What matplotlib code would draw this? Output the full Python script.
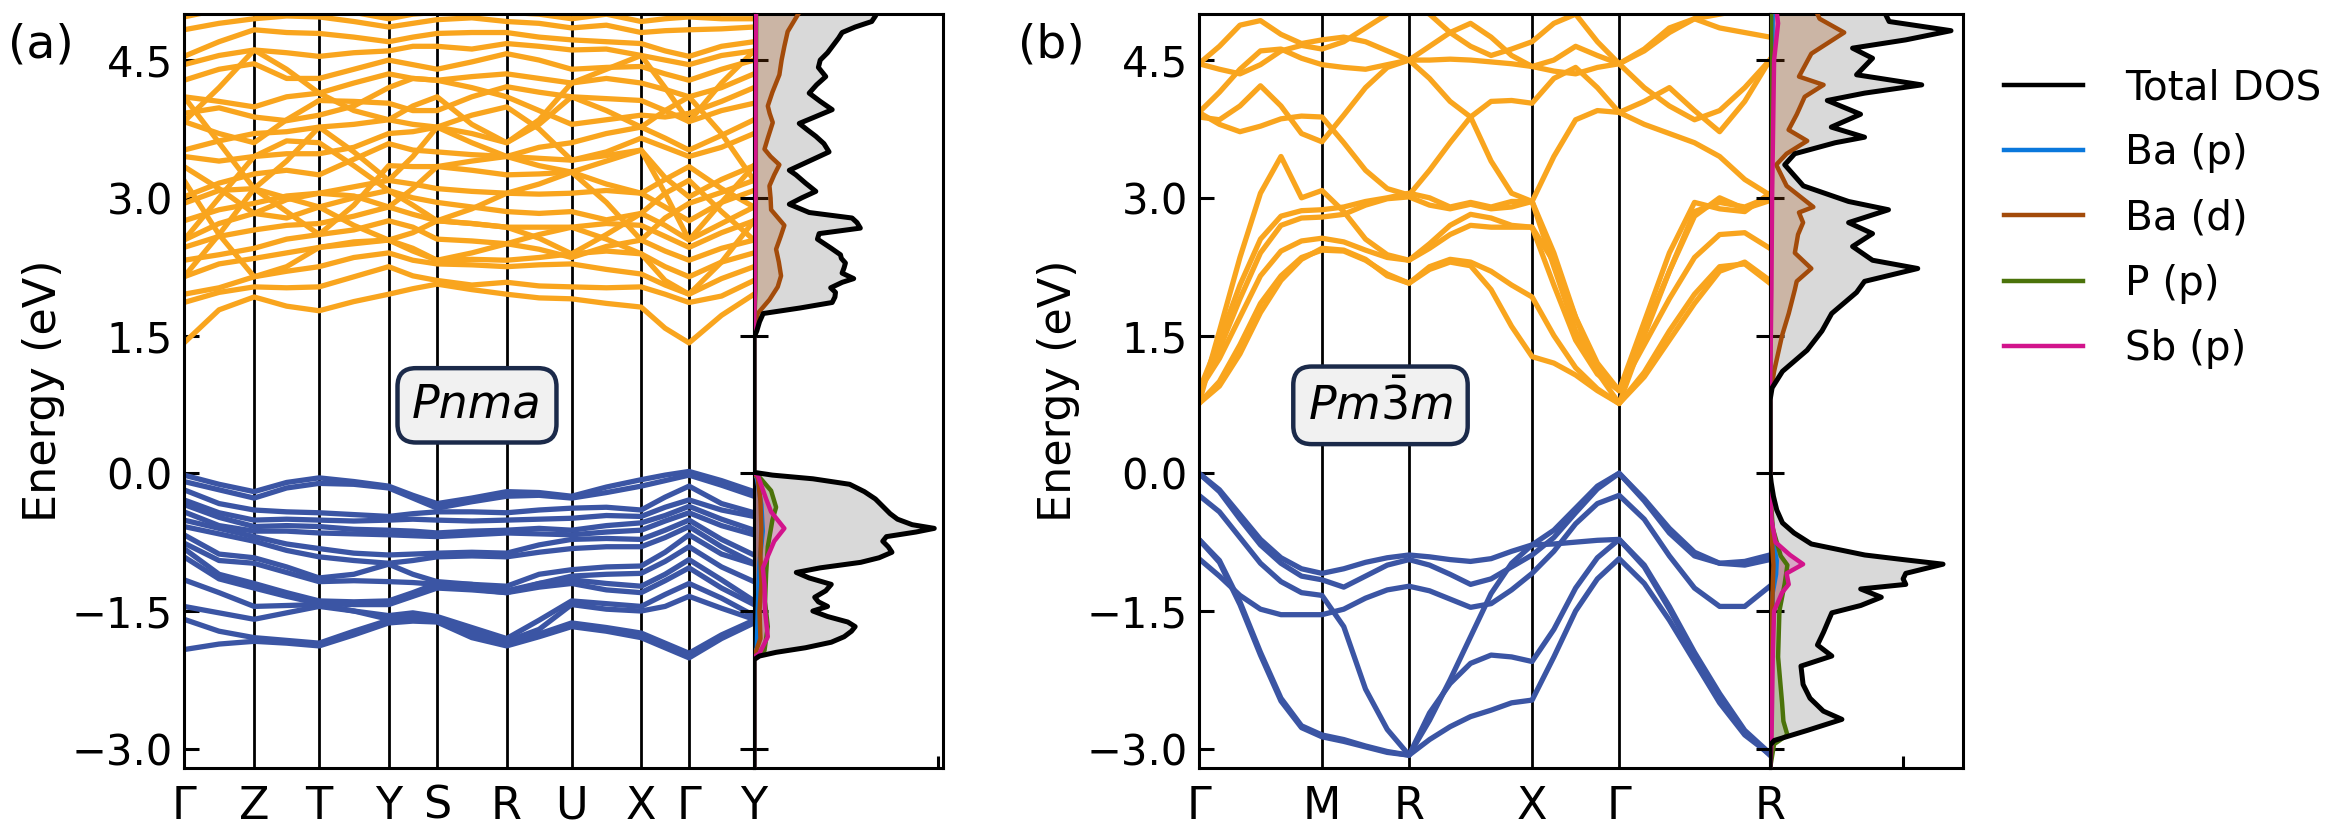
import numpy as np
import matplotlib
matplotlib.use('Agg')
import matplotlib.pyplot as plt
from matplotlib.lines import Line2D

plt.rcParams['font.family'] = ['DejaVu Sans']

# --------------------------------------------------------
# k-path
labels_a = ['Γ', 'Z', 'T', 'Y', 'S', 'R', 'U', 'X', 'Γ', 'Y']
hs_a = [0.0, 0.123, 0.237, 0.359, 0.444, 0.566, 0.680, 0.802, 0.886, 1.0]
nsub_a = [2, 2, 2, 2, 2, 2, 2, 2, 2]
labels_b = ['Γ', 'M', 'R', 'X', 'Γ', 'R']
hs_b = [0.0, 0.7071, 1.2071, 1.9142, 2.4142, 3.2802]
nsub_b = [6, 4, 6, 4, 6]

ytick_vals = [-3.0, -1.5, 0.0, 1.5, 3.0, 4.5]
ytick_labels = ['−3.0', '−1.5', '0.0', '1.5', '3.0', '4.5']

# (a) Pnma valence bands, energies (eV) along the path (HS point / midpoint)
va01 = [-0.02, -0.12, -0.20, -0.10, -0.05, -0.09, -0.14, -0.24, -0.33, -0.27, -0.20, -0.21, -0.25, -0.15, -0.07, -0.02, 0.02, -0.08, -0.20]
va02 = [-0.09, -0.18, -0.27, -0.16, -0.11, -0.12, -0.16, -0.27, -0.38, -0.31, -0.25, -0.24, -0.27, -0.21, -0.14, -0.08, -0.02, -0.13, -0.25]
va03 = [-0.18, -0.33, -0.40, -0.42, -0.43, -0.45, -0.47, -0.44, -0.42, -0.42, -0.43, -0.40, -0.38, -0.37, -0.40, -0.26, -0.14, -0.33, -0.43]
va04 = [-0.29, -0.43, -0.51, -0.50, -0.51, -0.52, -0.51, -0.50, -0.51, -0.52, -0.51, -0.50, -0.49, -0.46, -0.47, -0.37, -0.29, -0.40, -0.47]
va05 = [-0.34, -0.48, -0.58, -0.57, -0.58, -0.61, -0.62, -0.63, -0.65, -0.63, -0.62, -0.60, -0.62, -0.57, -0.54, -0.46, -0.36, -0.50, -0.62]
va06 = [-0.42, -0.57, -0.63, -0.63, -0.65, -0.66, -0.67, -0.68, -0.69, -0.67, -0.65, -0.66, -0.67, -0.64, -0.62, -0.52, -0.43, -0.57, -0.67]
va07 = [-0.51, -0.60, -0.69, -0.77, -0.82, -0.87, -0.89, -0.88, -0.87, -0.86, -0.87, -0.78, -0.72, -0.71, -0.72, -0.62, -0.51, -0.72, -0.89]
va08 = [-0.58, -0.66, -0.74, -0.84, -0.91, -0.95, -0.98, -0.95, -0.91, -0.90, -0.91, -0.86, -0.82, -0.80, -0.80, -0.70, -0.58, -0.80, -0.98]
va09 = [-0.67, -0.88, -0.92, -1.02, -1.14, -1.10, -0.99, -1.10, -1.18, -1.21, -1.23, -1.10, -1.05, -1.02, -1.01, -0.86, -0.67, -0.88, -0.99]
va10 = [-0.76, -0.95, -0.98, -1.08, -1.18, -1.17, -1.18, -1.19, -1.21, -1.26, -1.30, -1.20, -1.12, -1.10, -1.09, -0.96, -0.80, -1.02, -1.18]
va11 = [-0.82, -1.10, -1.20, -1.30, -1.39, -1.40, -1.39, -1.30, -1.20, -1.21, -1.28, -1.20, -1.16, -1.20, -1.23, -1.10, -0.94, -1.16, -1.39]
va12 = [-0.91, -1.15, -1.25, -1.34, -1.42, -1.43, -1.43, -1.34, -1.25, -1.27, -1.30, -1.24, -1.20, -1.27, -1.30, -1.17, -1.03, -1.25, -1.43]
va13 = [-1.16, -1.30, -1.45, -1.44, -1.43, -1.50, -1.55, -1.52, -1.56, -1.68, -1.80, -1.60, -1.39, -1.42, -1.45, -1.32, -1.20, -1.36, -1.55]
va14 = [-1.45, -1.52, -1.59, -1.52, -1.45, -1.50, -1.59, -1.57, -1.58, -1.72, -1.83, -1.70, -1.43, -1.48, -1.50, -1.45, -1.34, -1.47, -1.59]
va15 = [-1.59, -1.72, -1.79, -1.82, -1.85, -1.72, -1.60, -1.58, -1.60, -1.76, -1.86, -1.75, -1.63, -1.68, -1.74, -1.85, -1.96, -1.76, -1.60]
va16 = [-1.92, -1.86, -1.83, -1.85, -1.88, -1.76, -1.63, -1.61, -1.62, -1.79, -1.88, -1.78, -1.67, -1.72, -1.79, -1.90, -2.01, -1.80, -1.63]

# (a) Pnma conduction bands
ca01 = [1.42, 1.78, 1.92, 1.82, 1.77, 1.87, 1.95, 2.01, 2.06, 2.00, 1.95, 1.91, 1.90, 1.85, 1.81, 1.58, 1.42, 1.72, 1.95]
ca02 = [1.86, 1.97, 2.03, 2.02, 2.03, 2.14, 2.25, 2.15, 2.10, 2.05, 2.08, 2.04, 2.03, 2.02, 2.03, 1.95, 1.86, 1.93, 2.10]
ca03 = [1.95, 2.02, 2.14, 2.20, 2.25, 2.35, 2.40, 2.32, 2.28, 2.27, 2.25, 2.27, 2.28, 2.22, 2.17, 2.05, 1.95, 2.12, 2.25]
ca04 = [2.14, 2.28, 2.34, 2.40, 2.46, 2.50, 2.54, 2.42, 2.32, 2.33, 2.32, 2.35, 2.39, 2.42, 2.39, 2.25, 2.14, 2.30, 2.40]
ca05 = [2.32, 2.38, 2.45, 2.55, 2.60, 2.65, 2.75, 2.68, 2.55, 2.53, 2.50, 2.44, 2.35, 2.47, 2.54, 2.42, 2.32, 2.45, 2.54]
ca06 = [2.46, 2.58, 2.65, 2.70, 2.72, 2.80, 2.90, 2.82, 2.75, 2.72, 2.68, 2.68, 2.68, 2.72, 2.70, 2.58, 2.46, 2.62, 2.75]
ca07 = [2.54, 2.72, 2.83, 2.78, 2.90, 3.00, 3.08, 3.00, 2.95, 2.90, 2.85, 2.83, 2.85, 2.76, 2.83, 2.70, 2.54, 2.72, 2.90]
ca08 = [2.75, 2.87, 2.94, 3.02, 3.05, 3.12, 3.19, 3.15, 3.10, 3.07, 3.05, 3.04, 3.05, 3.08, 3.05, 2.90, 2.75, 2.95, 3.08]
ca09 = [2.94, 3.08, 3.10, 2.85, 2.60, 2.92, 3.35, 3.34, 3.34, 3.30, 3.25, 3.26, 3.28, 2.95, 2.54, 2.78, 2.94, 3.06, 3.19]
ca10 = [3.01, 3.16, 3.26, 3.30, 3.25, 3.42, 3.59, 3.52, 3.50, 3.47, 3.45, 3.43, 3.41, 3.46, 3.52, 3.22, 3.01, 3.20, 3.35]
ca11 = [3.19, 2.60, 2.14, 2.25, 2.46, 2.52, 2.54, 2.62, 2.75, 2.72, 2.68, 2.56, 2.39, 2.60, 2.83, 3.05, 3.19, 2.85, 2.54]
ca12 = [3.34, 3.10, 2.83, 2.98, 3.05, 3.02, 2.90, 3.10, 3.34, 3.40, 3.45, 3.35, 3.28, 3.15, 3.05, 3.20, 3.34, 3.10, 2.90]
ca13 = [3.45, 3.40, 3.45, 3.48, 3.48, 3.55, 3.70, 3.72, 3.77, 3.90, 3.99, 3.75, 3.41, 3.50, 3.65, 3.55, 3.45, 3.55, 3.70]
ca14 = [3.52, 3.62, 3.70, 3.72, 3.77, 3.80, 3.85, 3.80, 3.77, 3.60, 3.45, 3.55, 3.60, 3.70, 3.77, 3.65, 3.52, 3.68, 3.85]
ca15 = [3.83, 3.70, 3.60, 3.85, 4.06, 4.05, 4.03, 3.95, 3.95, 4.10, 4.21, 4.15, 4.10, 4.08, 4.06, 3.95, 3.83, 3.95, 4.03]
ca16 = [3.92, 3.98, 3.88, 3.84, 3.90, 4.00, 4.20, 4.30, 4.28, 4.20, 4.10, 3.95, 3.80, 3.85, 3.90, 3.88, 3.92, 4.05, 4.20]
ca17 = [4.10, 4.05, 3.99, 4.10, 4.14, 4.25, 4.35, 4.30, 4.28, 4.32, 4.35, 4.30, 4.25, 4.30, 4.25, 4.18, 4.10, 4.20, 4.35]
ca18 = [4.28, 4.40, 4.46, 4.30, 4.30, 4.40, 4.50, 4.45, 4.40, 4.48, 4.57, 4.50, 4.40, 4.42, 4.43, 4.35, 4.28, 4.40, 4.50]
ca19 = [4.45, 4.55, 4.61, 4.58, 4.54, 4.58, 4.60, 4.65, 4.65, 4.62, 4.68, 4.65, 4.61, 4.62, 4.55, 4.50, 4.45, 4.55, 4.60]
ca20 = [4.54, 4.70, 4.83, 4.80, 4.79, 4.75, 4.70, 4.75, 4.79, 4.80, 4.80, 4.75, 4.72, 4.70, 4.68, 4.60, 4.54, 4.65, 4.70]
ca21 = [4.83, 4.90, 4.95, 4.98, 4.97, 4.92, 4.86, 4.90, 4.94, 4.96, 4.92, 4.90, 4.85, 4.88, 4.80, 4.82, 4.83, 4.84, 4.86]
ca22 = [4.97, 5.05, 5.10, 5.08, 5.05, 5.02, 4.95, 5.00, 5.02, 5.05, 5.02, 5.00, 4.95, 5.00, 4.92, 4.95, 4.97, 4.95, 4.95]
ca23 = [4.10, 3.60, 3.10, 3.40, 3.77, 3.50, 3.19, 3.45, 3.77, 3.70, 3.60, 3.80, 4.10, 3.95, 3.77, 3.95, 4.10, 3.70, 3.19]
ca24 = [2.54, 3.00, 3.45, 3.62, 3.60, 3.35, 3.08, 2.92, 2.75, 2.88, 3.05, 3.15, 3.28, 3.40, 3.52, 3.05, 2.54, 2.95, 3.35]
ca25 = [2.14, 2.60, 3.10, 3.00, 2.90, 2.70, 2.54, 2.45, 2.32, 2.40, 2.50, 2.60, 2.68, 2.55, 2.39, 2.10, 1.95, 2.30, 2.75]
ca26 = [3.83, 4.20, 4.61, 4.40, 4.14, 3.95, 3.85, 4.00, 4.10, 3.80, 3.60, 3.85, 4.25, 4.40, 4.55, 4.20, 3.83, 4.25, 4.60]

# (b) Pm-3m valence bands
vb01 = [0.00, -0.18, -0.45, -0.72, -0.92, -1.04, -1.09, -1.04, -0.97, -0.92, -0.89, -0.91, -0.94, -0.96, -0.93, -0.85, -0.78, -0.62, -0.38, -0.14, 0.00, -0.30, -0.65, -0.90, -0.98, -0.96, -0.89]
vb02 = [0.00, -0.20, -0.50, -0.78, -0.98, -1.12, -1.16, -1.24, -1.12, -1.00, -0.94, -1.00, -1.10, -1.21, -1.15, -1.02, -0.89, -0.70, -0.43, -0.17, 0.00, -0.28, -0.60, -0.86, -0.98, -1.00, -0.94]
vb03 = [-0.24, -0.42, -0.70, -0.98, -1.18, -1.30, -1.33, -1.67, -2.35, -2.79, -3.07, -2.69, -2.25, -1.78, -1.31, -0.98, -0.78, -0.77, -0.75, -0.73, -0.72, -1.02, -1.48, -1.98, -2.43, -2.82, -3.07]
vb04 = [-0.93, -1.12, -1.33, -1.48, -1.54, -1.54, -1.54, -1.48, -1.36, -1.27, -1.23, -1.28, -1.37, -1.46, -1.42, -1.27, -1.09, -0.85, -0.55, -0.33, -0.24, -0.50, -0.90, -1.25, -1.45, -1.45, -1.23]
vb05 = [-0.72, -0.95, -1.40, -1.95, -2.45, -2.75, -2.85, -2.90, -2.97, -3.03, -3.07, -2.61, -2.29, -2.07, -1.98, -2.00, -2.05, -1.70, -1.25, -0.92, -0.72, -1.00, -1.45, -1.95, -2.40, -2.80, -3.05]
vb06 = [-0.72, -0.97, -1.43, -1.98, -2.48, -2.77, -2.87, -2.92, -2.98, -3.04, -3.07, -2.90, -2.76, -2.65, -2.58, -2.50, -2.47, -2.00, -1.50, -1.15, -0.93, -1.20, -1.60, -2.05, -2.50, -2.85, -3.06]

# (b) Pm-3m conduction bands
cb01 = [0.76, 1.00, 1.40, 1.85, 2.15, 2.35, 2.43, 2.42, 2.32, 2.17, 2.07, 2.22, 2.30, 2.26, 2.00, 1.60, 1.27, 1.20, 1.07, 0.90, 0.76, 1.10, 1.55, 1.95, 2.25, 2.28, 2.07]
cb02 = [0.76, 0.95, 1.30, 1.75, 2.10, 2.33, 2.45, 2.43, 2.33, 2.15, 2.07, 2.25, 2.33, 2.30, 2.20, 2.05, 1.92, 1.50, 1.15, 0.92, 0.76, 1.05, 1.45, 1.85, 2.20, 2.30, 2.10]
cb03 = [0.90, 1.25, 1.70, 2.15, 2.42, 2.53, 2.56, 2.52, 2.43, 2.35, 2.32, 2.50, 2.70, 2.82, 2.78, 2.70, 2.68, 2.05, 1.45, 1.08, 0.90, 1.40, 1.90, 2.35, 2.60, 2.62, 2.45]
cb04 = [0.90, 1.35, 1.90, 2.40, 2.70, 2.78, 2.79, 2.82, 2.92, 2.99, 3.01, 2.92, 2.88, 2.93, 2.88, 2.90, 2.96, 2.25, 1.55, 1.12, 0.90, 1.55, 2.20, 2.80, 3.00, 2.88, 2.97]
cb05 = [0.76, 1.55, 2.35, 3.05, 3.45, 3.00, 3.08, 2.85, 2.55, 2.38, 2.32, 2.45, 2.60, 2.70, 2.68, 2.68, 2.68, 2.30, 1.70, 1.10, 0.76, 1.50, 2.20, 2.85, 2.95, 2.90, 3.01]
cb06 = [0.90, 1.45, 2.05, 2.55, 2.80, 2.86, 2.87, 2.90, 2.96, 3.00, 3.05, 3.00, 2.90, 2.95, 2.90, 2.96, 2.96, 2.40, 1.70, 1.20, 0.90, 1.65, 2.40, 2.95, 2.88, 2.85, 3.05]
cb07 = [3.93, 3.80, 3.72, 3.78, 3.86, 3.89, 3.88, 3.60, 3.30, 3.10, 3.03, 3.30, 3.60, 3.88, 4.05, 4.06, 4.03, 4.30, 4.42, 4.20, 3.93, 4.05, 4.20, 3.95, 3.72, 4.05, 4.50]
cb08 = [3.88, 3.85, 4.00, 4.22, 4.00, 3.70, 3.61, 3.90, 4.20, 4.42, 4.50, 4.50, 4.51, 4.50, 4.48, 4.46, 4.43, 4.38, 4.35, 4.42, 4.46, 4.62, 4.85, 4.95, 4.85, 4.80, 4.75]
cb09 = [4.46, 4.65, 4.88, 4.93, 4.78, 4.68, 4.72, 4.75, 4.70, 4.60, 4.50, 4.30, 4.05, 3.88, 3.40, 3.05, 2.96, 3.45, 3.85, 3.95, 3.93, 3.80, 3.70, 3.60, 3.45, 3.20, 3.03]
cb10 = [3.93, 4.15, 4.40, 4.60, 4.62, 4.52, 4.45, 4.42, 4.40, 4.45, 4.50, 4.65, 4.80, 4.90, 4.75, 4.55, 4.43, 4.50, 4.65, 4.55, 4.46, 4.20, 4.00, 3.85, 3.95, 4.20, 4.50]
cb11 = [4.46, 4.40, 4.35, 4.45, 4.60, 4.66, 4.62, 4.70, 4.85, 5.00, 5.10, 5.00, 4.80, 4.65, 4.55, 4.62, 4.70, 4.90, 5.00, 4.70, 4.46, 4.60, 4.80, 4.95, 5.00, 5.05, 5.10]

# (a) DOS (states/eV)
e_tot_a = [-3.21, -2.03, -1.99, -1.95, -1.90, -1.84, -1.78, -1.72, -1.67, -1.62, -1.56, -1.50, -1.45, -1.40, -1.35, -1.28, -1.21, -1.14, -1.08, -1.03,
           -0.97, -0.92, -0.86, -0.80, -0.74, -0.69, -0.64, -0.60, -0.56, -0.50, -0.44, -0.36, -0.28, -0.20, -0.12, -0.06, -0.02, 0.01,
           1.48, 1.55, 1.65, 1.74, 1.80, 1.86, 1.92, 1.97, 2.02, 2.08, 2.12, 2.18, 2.24, 2.29, 2.34, 2.38, 2.45, 2.55, 2.61, 2.67,
           2.73, 2.78, 2.84, 2.93, 3.00, 3.07, 3.16, 3.25, 3.30, 3.40, 3.50, 3.59, 3.67, 3.74, 3.81, 3.88, 3.96, 4.05, 4.14, 4.23,
           4.32, 4.42, 4.50, 4.58, 4.66, 4.74, 4.80, 4.86, 4.92, 4.98, 5.02]
dos_tot_a = [0, 0, 0.3, 1.2, 2.8, 4.2, 4.9, 5.3, 5.5, 5.1, 4.0, 3.2, 4.0, 3.5, 3.3, 3.9, 4.2, 3.0, 2.3, 3.6,
             5.8, 6.8, 7.5, 7.3, 7.0, 7.2, 8.8, 9.8, 8.6, 7.8, 7.4, 7.0, 6.6, 6.0, 5.2, 3.2, 1.0, 0,
             0, 0.15, 0.3, 0.5, 2.5, 4.25, 4.4, 4.43, 4.17, 4.8, 5.42, 4.79, 4.9, 4.97, 4.75, 4.70, 4.2, 3.45, 3.54, 5.78,
             5.6, 5.33, 3.0, 1.92, 2.6, 3.36, 2.8, 2.28, 1.92, 3.0, 4.08, 3.8, 3.36, 2.9, 2.46, 3.3, 4.25, 3.6, 3.0, 3.4,
             3.9, 3.5, 3.6, 4.0, 4.3, 4.6, 4.79, 5.5, 6.4, 6.6, 6.7]
e_bap_a = [-3.21, -2.0, -1.9, -1.5, -1.2, -0.97, -0.63, -0.34, -0.05, 0.0, 1.5, 3.0, 5.02]
dos_bap_a = [0, 0, 0.15, 0.2, 0.25, 0.3, 0.48, 0.4, 0.15, 0, 0, 0.05, 0.08]
e_bad_a = [-3.21, -2.0, -1.8, -1.5, -1.2, -0.9, -0.6, -0.3, -0.05, 0.0, 1.50, 1.60, 1.74, 1.89, 2.03, 2.15, 2.30, 2.44, 2.58, 2.70,
           2.87, 3.00, 3.13, 3.25, 3.36, 3.45, 3.53, 3.65, 3.82, 3.92, 4.00, 4.15, 4.34, 4.50, 4.65, 4.81, 4.90, 5.02]
dos_bad_a = [0, 0, 0.35, 0.3, 0.4, 0.35, 0.4, 0.35, 0.2, 0, 0, 0.05, 0.2, 0.84, 1.29, 1.47, 1.35, 1.20, 1.45, 1.65,
             0.93, 0.9, 0.84, 1.1, 1.38, 0.9, 0.57, 0.75, 1.02, 0.85, 0.75, 1.0, 1.38, 1.5, 1.65, 1.83, 2.1, 2.46]
e_pp_a = [-3.21, -2.0, -1.93, -1.67, -1.40, -1.09, -0.80, -0.51, -0.37, -0.19, -0.02, 0.0, 1.5, 2.0, 3.0, 4.0, 5.02]
dos_pp_a = [0, 0, 0.57, 0.75, 0.6, 0.66, 0.75, 1.0, 1.2, 0.93, 0.2, 0, 0, 0.08, 0.1, 0.1, 0.12]
e_sbp_a = [-3.21, -2.0, -1.96, -1.78, -1.50, -1.21, -1.03, -0.74, -0.60, -0.42, -0.28, -0.02, 0.0, 1.5, 2.0, 3.0, 4.0, 5.02]
dos_sbp_a = [0, 0, 0.3, 0.75, 0.6, 0.57, 0.48, 1.1, 1.65, 0.93, 0.66, 0.2, 0, 0, 0.05, 0.08, 0.08, 0.1]

# (b) DOS (states/eV)
e_tot_b = [-3.21, -2.96, -2.91, -2.80, -2.68, -2.59, -2.45, -2.30, -2.10, -1.99, -1.87, -1.73, -1.60, -1.52, -1.44, -1.35, -1.26, -1.21, -1.15, -1.09,
           -0.99, -0.94, -0.89, -0.77, -0.65, -0.54, -0.40, -0.25, -0.10, 0.0,
           0.80, 0.93, 1.11, 1.34, 1.55, 1.74, 1.97, 2.09, 2.23, 2.32, 2.47, 2.61, 2.73, 2.87, 2.96, 3.13, 3.36, 3.48, 3.60, 3.66,
           3.77, 3.91, 4.06, 4.14, 4.23, 4.34, 4.52, 4.63, 4.72, 4.82, 4.92, 5.02]
dos_tot_b = [0, 0, 0.31, 2.8, 5.4, 4.0, 3.0, 2.48, 2.32, 4.64, 3.56, 4.02, 4.4, 4.64, 6.81, 8.36, 6.81, 10.2, 10.0, 10.2,
             13.0, 10.0, 7.12, 3.10, 1.8, 0.93, 0.5, 0.25, 0.08, 0,
             0, 0.15, 0.93, 2.78, 3.9, 4.63, 6.5, 7.1, 11.1, 7.7, 6.2, 7.7, 5.9, 8.9, 5.9, 2.5, 1.1, 1.85, 4.9, 7.1,
             4.6, 6.8, 4.3, 7.1, 11.4, 6.5, 7.7, 6.2, 10.2, 13.6, 8.95, 8.6]
e_bap_b = [-3.21, -2.9, -2.0, -1.3, -1.1, -0.95, -0.8, -0.4, 0.0, 0.85, 3.0, 4.5, 5.02]
dos_bap_b = [0, 0.05, 0.08, 0.2, 0.45, 0.5, 0.3, 0.05, 0, 0, 0.05, 0.15, 0.2]
e_bad_b = [-3.21, -3.0, -2.5, -2.0, -1.5, -1.0, -0.5, 0.0, 0.85, 0.93, 1.11, 1.50, 1.74, 2.00, 2.09, 2.23, 2.40, 2.60,
           2.73, 2.84, 2.90, 3.13, 3.36, 3.48, 3.62, 3.74, 3.91, 4.10, 4.23, 4.32, 4.57, 4.80, 4.95, 5.02]
dos_bad_b = [0, 0.05, 0.1, 0.12, 0.15, 0.25, 0.05, 0, 0, 0.1, 0.3, 0.9, 1.4, 1.86, 2.0, 3.1, 1.86, 2.1,
             2.48, 2.17, 3.25, 1.24, 0.46, 1.24, 2.79, 1.39, 2.01, 2.6, 4.02, 2.17, 3.1, 5.57, 3.72, 3.5]
e_pp_b = [-3.21, -2.95, -2.85, -2.70, -2.50, -2.0, -1.5, -1.2, -1.0, -0.9, -0.6, -0.2, 0.0, 0.85, 3.0, 5.02]
dos_pp_b = [0, 0.3, 1.3, 1.0, 0.9, 0.6, 0.7, 1.1, 1.3, 0.8, 0.2, 0.02, 0, 0, 0.05, 0.08]
e_sbp_b = [-3.21, -2.95, -2.5, -2.0, -1.5, -1.30, -1.21, -1.09, -0.99, -0.89, -0.75, -0.50, -0.2, 0.0, 0.85, 2.0, 3.0, 4.0, 4.5, 4.9, 5.02]
dos_sbp_b = [0, 0.1, 0.15, 0.2, 0.3, 0.9, 1.4, 1.24, 2.48, 1.5, 0.4, 0.1, 0.02, 0, 0, 0.1, 0.15, 0.25, 0.3, 0.6, 0.5]

dos_names = ['Total DOS', 'Ba (p)', 'Ba (d)', 'P (p)', 'Sb (p)']
dos_colors = ['black', '#0a78dc', '#a34b0a', '#4b730a', '#d2148c']

c_cond = '#f9a51e'
c_val = '#3b55a4'
ylim = (-3.21, 5.0)


def path_grid(hs, nsub):
    k = []
    for i in range(len(hs) - 1):
        k.extend(np.linspace(hs[i], hs[i + 1], nsub[i] + 1)[:-1])
    k.append(hs[-1])
    return np.array(k)


def draw_bands(ax, hs, labels, kgrid, vbands, cbands):
    for x in hs[1:-1]:
        ax.axvline(x, color='black', lw=1.0, zorder=1)
    for b in cbands:
        ax.plot(kgrid, b, color=c_cond, lw=1.9, zorder=2, solid_joinstyle='round')
    for b in vbands:
        ax.plot(kgrid, b, color=c_val, lw=1.9, zorder=2, solid_joinstyle='round')
    ax.set_xlim(hs[0], hs[-1])
    ax.set_ylim(*ylim)
    ax.set_xticks(hs)
    ax.set_xticklabels(labels, fontsize=16)
    ax.tick_params(axis='x', length=0, pad=6)
    ax.set_yticks(ytick_vals)
    ax.set_yticklabels(ytick_labels, fontsize=15)
    ax.tick_params(axis='y', direction='in', length=5.5, width=1.1, pad=4)
    ax.set_ylabel('Energy (eV)', fontsize=16)
    ax.yaxis.set_label_coords(-0.208, 0.5)
    for s in ax.spines.values():
        s.set_linewidth(1.1)


def draw_dos(ax, xmax, curves):
    e_t, d_t = curves[0]
    ax.fill_betweenx(e_t, 0, d_t, color='#d9d9d9', lw=0, zorder=1)
    for (e_p, d_p), col in zip(curves[1:], dos_colors[1:]):
        ax.fill_betweenx(e_p, 0, d_p, color=col, alpha=0.25, lw=0, zorder=2)
        ax.plot(d_p, e_p, color=col, lw=1.6, zorder=3)
    ax.plot(d_t, e_t, color='black', lw=1.8, zorder=4)
    ax.set_xlim(0, xmax)
    ax.set_ylim(*ylim)
    ax.set_xticks([10])
    ax.set_xticklabels([])
    ax.tick_params(axis='x', direction='in', length=4.5, width=1.1)
    ax.set_yticks(ytick_vals)
    ax.set_yticklabels([])
    ax.tick_params(axis='y', direction='inout', length=10, width=1.1)
    for s in ax.spines.values():
        s.set_linewidth(1.1)


fig = plt.figure(figsize=(11.69, 4.165), dpi=200)
bot, hgt = 0.078, 0.905
ax_a = fig.add_axes([0.0787, bot, 0.2438, hgt])
ax_ad = fig.add_axes([0.3225, bot, 0.0808, hgt])
ax_b = fig.add_axes([0.5128, bot, 0.2442, hgt])
ax_bd = fig.add_axes([0.7571, bot, 0.0825, hgt])

k_a = path_grid(hs_a, nsub_a)
k_b = path_grid(hs_b, nsub_b)

draw_bands(ax_a, hs_a, labels_a, k_a,
           [va01, va02, va03, va04, va05, va06, va07, va08, va09, va10, va11, va12, va13, va14, va15, va16],
           [ca01, ca02, ca03, ca04, ca05, ca06, ca07, ca08, ca09, ca10, ca11, ca12, ca13,
            ca14, ca15, ca16, ca17, ca18, ca19, ca20, ca21, ca22, ca23, ca24, ca25, ca26])
draw_bands(ax_b, hs_b, labels_b, k_b,
           [vb01, vb02, vb03, vb04, vb05, vb06],
           [cb01, cb02, cb03, cb04, cb05, cb06, cb07, cb08, cb09, cb10, cb11])

draw_dos(ax_ad, 10.27, [(e_tot_a, dos_tot_a), (e_bap_a, dos_bap_a), (e_bad_a, dos_bad_a),
                        (e_pp_a, dos_pp_a), (e_sbp_a, dos_sbp_a)])
draw_dos(ax_bd, 14.5, [(e_tot_b, dos_tot_b), (e_bap_b, dos_bap_b), (e_bad_b, dos_bad_b),
                       (e_pp_b, dos_pp_b), (e_sbp_b, dos_sbp_b)])

box = dict(boxstyle='round,pad=0.32,rounding_size=0.4', fc='#f1f1f1', ec='#1b2a4a', lw=1.6)
ax_a.text(0.514, 0.74, 'Pnma', ha='center', va='center',
          fontsize=16.5, style='italic', bbox=box, zorder=6)
ax_b.text(0.318 * hs_b[-1], 0.74, r'$Pm\bar{3}m$', ha='center', va='center',
          fontsize=16.5, bbox=box, zorder=6)

fig.text(41 / 2338, 1 - 45 / 833, '(a)', fontsize=17, ha='center', va='center')
fig.text(1051 / 2338, 1 - 45 / 833, '(b)', fontsize=17, ha='center', va='center')

handles = [Line2D([], [], color=c, lw=1.6) for c in dos_colors]
fig.legend(handles, dos_names, loc='upper left', bbox_to_anchor=(0.857, 0.918),
           frameon=False, fontsize=14.6, handlelength=1.95, handletextpad=1.05,
           labelspacing=0.62, borderpad=0, borderaxespad=0)

fig.savefig('out.png', dpi=200)
